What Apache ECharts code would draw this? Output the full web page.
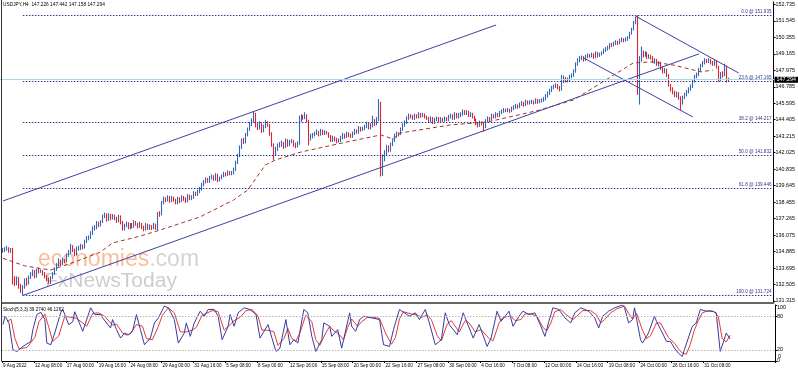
<!DOCTYPE html>
<html><head><meta charset="utf-8">
<script src="https://cdn.jsdelivr.net/npm/echarts@6/dist/echarts.min.js"></script>
<style>html,body{margin:0;padding:0;background:#fff}#c{width:798px;height:372px}</style>
</head><body><div id="c"></div>
<script>
// ---- USDJPY H4, 9 Aug 16:00 .. 2 Nov 2022 (bars of 4 hours; open = previous close) ----
const firstOpen = 134.90;
const closes = [
134.95,135.05,
135.10,134.90,135.05,132.90,132.60,132.90,
132.40,132.10,132.30,132.80,132.60,133.00,
133.20,133.40,133.10,133.50,133.45,133.45,
133.30,133.10,132.90,132.60,133.00,133.30,
133.60,133.90,134.20,134.00,134.25,134.20,
134.60,134.80,135.20,135.00,134.70,135.10,
135.10,135.30,135.20,135.60,135.80,135.90,
136.20,136.50,136.60,136.90,136.80,137.00,
137.40,137.60,137.20,137.50,137.30,137.45,
137.30,137.10,137.40,137.00,136.50,136.75,
136.90,136.60,136.80,136.70,137.00,136.85,
136.70,136.90,136.60,136.50,136.80,136.55,
136.70,136.60,136.80,136.55,137.60,137.55,
138.40,138.70,138.60,138.80,138.50,138.75,
138.60,138.40,138.70,138.50,138.80,138.70,
138.50,138.90,138.70,138.80,139.10,139.00,
139.20,139.40,139.70,139.90,140.10,139.95,
140.20,140.30,140.10,140.40,140.00,140.20,
140.30,140.50,140.40,140.60,140.50,140.55,
140.80,141.30,141.80,142.40,142.90,142.80,
143.30,143.70,144.10,144.30,144.80,144.00,
143.80,144.10,143.60,143.90,144.20,144.00,
143.40,142.60,142.00,142.30,142.50,142.60,
142.70,142.40,142.90,142.60,142.80,142.85,
142.60,142.50,142.70,144.40,144.60,144.55,
144.70,144.30,143.10,143.20,143.30,143.40,
143.50,143.30,143.60,143.40,143.50,143.45,
143.20,142.90,143.10,143.00,142.80,142.90,
143.10,143.30,143.20,143.40,143.30,143.20,
143.40,143.60,143.50,143.80,143.70,143.75,
143.90,144.10,143.80,144.00,144.30,144.10,
144.40,144.90,141.20,141.60,142.00,142.40,
142.20,142.60,142.90,143.20,143.40,143.35,
143.70,144.00,144.20,144.50,144.70,144.60,
144.50,144.70,144.60,144.80,144.65,144.75,
144.60,144.50,144.30,144.50,144.20,144.40,
144.50,144.30,144.45,144.35,144.50,144.40,
144.60,144.70,144.50,144.80,144.60,144.75,
144.80,145.00,144.85,144.95,144.70,144.80,
144.60,144.40,144.10,144.00,144.20,144.10,
143.90,144.30,144.50,144.40,144.70,144.60,
144.80,144.70,144.90,145.00,145.10,145.05,
145.10,145.00,145.20,145.30,145.40,145.30,
145.50,145.60,145.45,145.70,145.60,145.65,
145.70,145.60,145.80,145.65,145.75,145.80,
145.90,146.10,146.30,146.50,146.70,146.80,
146.90,146.70,146.60,147.20,147.40,147.20,
147.30,147.50,147.60,147.90,148.40,148.70,
148.80,148.90,148.70,148.95,149.05,149.00,
149.10,148.90,149.20,149.00,149.10,149.20,
149.40,149.50,149.60,149.80,149.75,149.90,
150.00,149.90,150.10,150.20,150.10,150.20,
150.30,150.60,150.90,151.40,151.70,146.50,
148.80,149.30,149.10,149.20,148.90,149.00,
148.90,148.60,148.70,148.40,148.50,148.10,
147.90,148.00,147.60,146.90,146.60,146.40,
146.20,146.30,146.00,145.60,146.00,146.20,
146.40,146.60,146.80,147.20,147.50,147.60,
148.00,148.30,148.50,148.70,148.60,148.70,
148.50,148.40,148.60,148.20,147.30,147.70,
147.60,148.20,147.226,147.294
];
const highs = [
135.15,135.20,
135.30,135.20,135.15,135.15,133.10,133.10,
133.05,132.55,132.45,132.95,133.00,133.15,
133.40,133.60,133.55,133.65,133.70,133.60,
133.55,133.40,133.20,133.00,133.10,133.40,
133.75,134.05,134.40,134.30,134.45,134.35,
134.75,135.00,135.45,135.35,135.10,135.25,
135.30,135.45,135.40,135.75,136.00,136.05,
136.35,136.70,136.80,137.10,137.05,137.15,
137.55,137.70,137.65,137.65,137.60,137.60,
137.55,137.40,137.55,137.50,137.10,136.90,
137.05,137.00,136.95,136.95,137.15,137.10,
136.95,137.05,136.95,136.75,136.95,136.90,
136.85,136.80,136.95,136.90,137.75,137.80,
138.55,138.85,138.80,138.95,138.90,138.90,
138.85,138.70,138.85,138.80,138.95,138.90,
138.80,139.05,139.00,138.95,139.25,139.20,
139.35,139.55,139.85,140.05,140.25,140.20,
140.35,140.45,140.40,140.55,140.50,140.30,
140.45,140.65,140.60,140.75,140.70,140.70,
140.95,141.45,141.95,142.55,143.05,143.10,
143.45,143.85,144.25,144.50,144.99,144.90,
144.15,144.30,144.20,144.05,144.40,144.30,
144.10,143.50,142.70,142.45,142.70,142.80,
142.90,142.80,143.05,143.00,142.95,143.00,
142.95,142.75,142.85,144.70,144.80,144.75,
144.95,144.80,144.40,143.40,143.45,143.55,
143.70,143.60,143.75,143.70,143.65,143.60,
143.50,143.30,143.25,143.20,143.10,143.05,
143.25,143.45,143.40,143.55,143.50,143.40,
143.55,143.75,143.70,143.95,143.90,143.90,
144.05,144.25,144.20,144.15,144.70,144.45,
144.60,145.90,145.70,141.90,142.20,142.60,
142.55,142.75,143.05,143.40,143.55,143.50,
143.85,144.15,144.35,144.65,144.85,144.80,
144.75,144.85,144.80,144.95,144.90,144.90,
144.85,144.70,144.60,144.65,144.60,144.55,
144.65,144.60,144.60,144.55,144.65,144.60,
144.75,144.85,144.80,144.95,144.90,144.90,
144.95,145.15,145.10,145.10,145.05,144.95,
144.90,144.70,144.50,144.25,144.35,144.30,
144.20,144.45,144.65,144.60,144.85,144.80,
144.95,144.90,145.05,145.15,145.25,145.20,
145.25,145.20,145.35,145.45,145.55,145.50,
145.65,145.75,145.70,145.85,145.80,145.80,
145.85,145.80,145.95,145.90,145.90,145.95,
146.05,146.25,146.45,146.65,146.85,146.95,
147.05,147.00,146.85,147.65,147.60,147.50,
147.45,147.65,147.75,148.05,148.55,148.85,
149.00,149.05,149.00,149.10,149.20,149.15,
149.25,149.20,149.35,149.30,149.25,149.35,
149.55,149.65,149.75,149.95,149.95,150.05,
150.15,150.10,150.25,150.35,150.30,150.35,
150.45,150.75,151.05,151.55,151.85,151.94,
149.00,149.70,149.40,149.35,149.30,149.15,
149.10,149.00,148.85,148.80,148.65,148.60,
148.25,148.15,148.10,147.70,147.00,146.75,
146.50,146.45,146.40,146.10,146.15,146.35,
146.55,146.75,146.95,147.35,147.65,147.80,
148.15,148.45,148.65,148.85,148.80,148.85,
148.80,148.65,148.75,148.70,148.30,147.85,
147.90,148.45,148.30,147.442
];
const lows = [
134.80,134.85,
134.95,134.80,134.80,132.50,132.40,132.45,
132.20,131.90,131.72,132.20,132.40,132.50,
132.90,133.10,132.95,133.00,133.30,133.35,
133.15,132.95,132.75,132.55,132.55,132.90,
133.20,133.50,133.80,133.85,133.90,134.05,
134.10,134.50,134.70,134.85,134.55,134.60,
134.95,135.00,135.05,135.10,135.50,135.70,
135.80,136.10,136.40,136.50,136.65,136.70,
136.95,137.30,137.05,137.10,137.15,137.20,
137.15,136.95,137.00,136.85,136.40,136.40,
136.65,136.50,136.50,136.55,136.60,136.75,
136.55,136.60,136.50,136.35,136.40,136.45,
136.45,136.45,136.50,136.45,136.40,137.40,
137.50,138.30,138.45,138.50,138.40,138.45,
138.50,138.30,138.30,138.40,138.45,138.55,
138.40,138.45,138.60,138.60,138.70,138.90,
138.90,139.10,139.30,139.60,139.80,139.85,
139.85,140.10,140.00,140.00,139.90,139.95,
140.10,140.25,140.30,140.35,140.40,140.40,
140.45,140.70,141.20,141.70,142.30,142.65,
142.70,143.20,143.60,143.95,144.20,143.85,
143.65,143.70,143.45,143.50,143.80,143.90,
143.25,142.45,141.50,141.85,142.15,142.40,
142.45,142.30,142.35,142.45,142.50,142.70,
142.45,142.35,142.40,142.60,144.25,144.40,
144.45,144.20,142.55,142.90,143.05,143.20,
143.30,143.20,143.25,143.30,143.30,143.35,
143.10,142.80,142.80,142.85,142.70,142.75,
142.80,143.00,143.05,143.10,143.15,143.10,
143.10,143.30,143.40,143.40,143.55,143.60,
143.65,143.80,143.70,143.70,143.85,143.95,
144.00,144.30,140.30,140.35,141.40,141.85,
142.05,142.10,142.50,142.80,143.10,143.20,
143.30,143.60,143.90,144.10,144.40,144.50,
144.40,144.40,144.50,144.50,144.55,144.60,
144.50,144.40,144.20,144.20,144.10,144.10,
144.30,144.20,144.20,144.25,144.25,144.30,
144.30,144.50,144.40,144.40,144.50,144.50,
144.60,144.70,144.75,144.75,144.60,144.60,
144.50,144.30,144.00,143.85,143.90,144.00,
143.55,143.80,144.20,144.30,144.35,144.50,
144.50,144.60,144.60,144.80,144.90,144.95,
144.95,144.90,144.95,145.10,145.20,145.20,
145.25,145.40,145.35,145.40,145.50,145.50,
145.55,145.50,145.55,145.55,145.60,145.65,
145.70,145.80,146.00,146.20,146.40,146.60,
146.70,146.60,146.45,146.50,147.05,147.10,
147.10,147.20,147.40,147.50,147.80,148.30,
148.55,148.70,148.60,148.65,148.85,148.90,
148.90,148.80,148.85,148.90,148.95,149.05,
149.15,149.30,149.40,149.50,149.65,149.70,
149.80,149.80,149.85,150.00,150.00,150.05,
150.10,150.25,150.55,150.85,151.30,146.20,
145.50,148.60,148.90,148.95,148.80,148.80,
148.75,148.50,148.45,148.30,148.25,148.00,
147.75,147.75,147.50,146.80,146.45,146.25,
146.05,146.00,145.85,145.10,145.50,145.90,
146.10,146.30,146.50,146.70,147.10,147.40,
147.55,147.90,148.20,148.40,148.50,148.50,
148.40,148.30,148.30,148.10,147.15,147.20,
147.45,147.55,147.10,147.158
];
// moving average (dashed), read at bar indices
const maPoints = [[0,134.40],[11,133.85],[24,133.55],[36,134.13],[49,134.85],[55,135.50],[69,136.00],[79,136.44],
 [99,137.38],[116,138.61],[123,139.33],[132,141.14],[137,141.50],[150,142.08],[173,142.80],[190,143.31],[196,143.02],
 [200,143.45],[225,144.03],[244,144.25],[270,145.11],[287,145.84],[317,148.51],[326,148.58],[337,148.36],[351,147.86],[357,148.00]];
// Fibonacci retracement levels
const fibNames  = ['0.0','23.6','38.2','50.0','61.8','100.0'];
const fibValues = [151.935,147.165,144.217,141.832,139.446,131.724];
const fibStartBar = 10;
// trend / channel lines: [bar1, price1, bar2, price2]
const trendLines = [[0,138.54,248,151.25],[10,131.72,350,149.16],[318,151.90,370,147.78],[292,148.87,347,144.60]];
const lastPrice = 147.294;
const priceTicks = [152.735,151.545,150.355,149.165,147.975,146.785,145.595,144.405,143.215,142.025,140.835,139.645,138.455,137.265,136.075,134.885,133.695,132.505,131.315];
const timeLabels = ['9 Aug 2022','12 Aug 08:00','17 Aug 00:00','19 Aug 16:00','24 Aug 08:00','29 Aug 00:00','31 Aug 16:00','5 Sep 08:00','8 Sep 00:00','12 Sep 16:00','15 Sep 08:00','20 Sep 00:00','22 Sep 16:00','27 Sep 08:00','30 Sep 00:00','4 Oct 16:00','7 Oct 08:00','12 Oct 00:00','14 Oct 16:00','19 Oct 08:00','24 Oct 00:00','26 Oct 16:00','31 Oct 08:00'];
const labelEvery = 16;
// Stochastic (5,3,3): [bar, value]
const stochK = [[0,65],[1,80],[3,68],[5,20],[7,17],[10,26],[14,35],[15,56],[17,83],[19,87],[21,74],[22,32],[24,29],[26,50],[29,87],[30,92],[33,65],[35,70],[36,88],[39,62],[40,53],[44,95],[46,83],[49,83],[50,77],[54,59],[55,74],[57,56],[59,41],[61,50],[63,47],[65,53],[67,83],[69,56],[71,29],[74,41],[76,68],[78,77],[81,98],[83,95],[86,74],[88,32],[91,50],[92,68],[94,44],[96,68],[99,89],[101,80],[103,92],[106,92],[108,80],[110,38],[113,62],[114,83],[116,62],[118,86],[121,95],[124,92],[127,83],[129,41],[131,53],[133,65],[135,41],[137,17],[139,23],[142,74],[144,29],[146,38],[148,32],[151,92],[153,86],[155,44],[157,17],[160,38],[161,68],[164,62],[165,44],[168,56],[170,23],[174,86],[175,62],[177,53],[179,74],[181,80],[185,77],[189,74],[191,29],[194,26],[196,56],[199,92],[200,92],[204,80],[207,86],[209,74],[212,92],[214,68],[217,29],[220,38],[222,86],[224,65],[228,47],[231,86],[233,68],[236,41],[239,65],[243,26],[245,41],[248,89],[250,71],[254,89],[256,62],[259,80],[261,89],[264,83],[267,86],[270,62],[272,44],[274,71],[276,95],[279,92],[282,77],[285,68],[287,86],[290,95],[294,89],[297,77],[299,59],[301,80],[304,89],[307,95],[311,100],[312,95],[314,68],[316,74],[317,95],[320,38],[321,32],[324,50],[327,80],[328,71],[331,50],[333,35],[335,35],[337,23],[339,14],[341,8],[342,20],[346,62],[348,68],[350,92],[353,89],[356,89],[358,86],[360,17],[362,38],[363,50],[365,39.274]];
const stochD = [[2,70],[4,75],[6,40],[8,22],[12,24],[16,42],[18,70],[21,84],[23,60],[25,35],[28,45],[31,80],[34,78],[37,76],[40,68],[42,62],[45,85],[48,86],[51,80],[55,64],[57,66],[60,50],[62,46],[64,49],[67,65],[70,62],[72,40],[75,38],[78,62],[80,82],[83,95],[86,86],[89,52],[92,52],[95,55],[97,60],[100,82],[102,85],[105,90],[108,88],[111,55],[114,65],[116,72],[119,78],[122,90],[125,92],[128,80],[130,55],[133,55],[136,52],[138,28],[141,40],[143,58],[145,40],[147,35],[149,50],[152,82],[155,70],[157,38],[159,28],[162,50],[164,62],[166,54],[168,50],[171,38],[173,60],[175,75],[178,62],[180,70],[183,78],[186,78],[189,76],[192,50],[195,30],[197,42],[199,75],[201,88],[205,84],[208,82],[210,78],[213,82],[215,74],[218,45],[220,36],[223,66],[225,72],[229,52],[232,72],[234,68],[237,52],[240,56],[244,40],[246,36],[249,68],[251,78],[255,80],[257,72],[260,74],[262,84],[265,84],[268,80],[271,60],[273,54],[275,68],[277,88],[280,92],[283,82],[286,74],[288,80],[291,90],[295,90],[298,82],[300,68],[302,74],[305,86],[308,93],[312,98],[314,85],[316,75],[318,85],[321,55],[323,40],[325,45],[328,68],[330,68],[332,55],[334,42],[337,32],[339,22],[341,14],[343,12],[345,30],[347,55],[349,72],[351,86],[354,90],[357,88],[359,80],[361,40],[363,34],[365,46.1262]];
const stochTicks = [0,20,80,100];
const stochLevels = [80,20];
const titleText = 'USDJPY,H4  147.226 147.442 147.158 147.294';
const stochText = 'Stoch(5,3,3) 39.2740 46.1262';

// ---------------- chart ----------------
const SLOTS = 388;
const cats = Array.from({length: SLOTS}, (_, i) => String(i));
const candles = closes.map((c, i) => [i === 0 ? firstOpen : closes[i - 1], c, lows[i], highs[i]]);
const FONT = 'Liberation Sans, Arial, sans-serif';
const NAVY = '#34348f';
const isLabel = (idx) => idx % labelEvery === 0 && idx / labelEvery < timeLabels.length;

const fibLines = fibValues.map((v, k) => [
  {coord: [fibStartBar, v], name: fibNames[k] + ' @ ' + v.toFixed(3)},
  {coord: [SLOTS - 1, v]}
]);
const chanLines = trendLines.map(t => [{coord: [t[0], t[1]]}, {coord: [t[2], t[3]]}]);

const chart = echarts.init(document.getElementById('c'), null, {renderer: 'canvas'});
chart.setOption({
  animation: false,
  backgroundColor: '#fff',
  grid: [
    {left: 2, right: 23, top: 2, height: 301},
    {left: 2, right: 23, top: 305, height: 56}
  ],
  xAxis: [
    {type: 'category', gridIndex: 0, data: cats, boundaryGap: true,
     axisLine: {show: true, lineStyle: {color: '#666', width: 2}}, axisTick: {show: false}, axisLabel: {show: false}, splitLine: {show: false}},
    {type: 'category', gridIndex: 1, data: cats, boundaryGap: true,
     axisLine: {show: true, lineStyle: {color: '#000', width: 1}},
     axisTick: {show: true, interval: isLabel, length: 2, lineStyle: {color: '#000'}},
     axisLabel: {show: true, interval: isLabel, formatter: (v, idx) => isLabel(idx) ? timeLabels[idx / labelEvery] : '',
       align: 'left', margin: 2, fontSize: 4.6, fontFamily: FONT, color: '#000'},
     splitLine: {show: false}}
  ],
  yAxis: [
    {type: 'value', gridIndex: 0, position: 'right', min: 131.171, max: 152.908, scale: true,
     axisLine: {show: true, lineStyle: {color: '#000'}},
     axisTick: {show: true, customValues: priceTicks, length: 2, lineStyle: {color: '#000'}},
     axisLabel: {show: true, customValues: priceTicks, formatter: v => v.toFixed(3), fontSize: 5.4, fontFamily: FONT, color: '#000', margin: 2},
     splitLine: {show: false}},
    {type: 'value', gridIndex: 1, position: 'right', min: 0, max: 100,
     axisLine: {show: true, lineStyle: {color: '#000'}},
     axisTick: {show: true, customValues: stochTicks, length: 2, lineStyle: {color: '#000'}},
     axisLabel: {show: true, customValues: stochTicks, fontSize: 5.4, fontFamily: FONT, color: '#000', margin: 2,
       formatter: v => { const r = Math.round(Number(v)); return r === 100 ? '{t|100}' : String(r); },
       rich: {t: {fontSize: 5.4, fontFamily: FONT, padding: [6, 0, 0, 0]}}},
     splitLine: {show: false}}
  ],
  series: [
    {type: 'candlestick', xAxisIndex: 0, yAxisIndex: 0, data: candles, barWidth: 1,
     itemStyle: {color: '#3466bd', color0: '#e3222a', borderColor: '#3466bd', borderColor0: '#e3222a', borderWidth: 1.1},
     z: 3},
    {type: 'line', xAxisIndex: 0, yAxisIndex: 0, data: maPoints, symbol: 'none', z: 4,
     lineStyle: {color: '#a3352a', width: 1, type: [4, 3]},
     markLine: {silent: true, symbol: ['none', 'none'], animation: false,
       data: [
         ...fibLines.map(d => [Object.assign({}, d[0], {
            lineStyle: {color: NAVY, width: 1, type: [1.5, 1.5]},
            label: {show: true, position: 'insideEndTop', formatter: '{b}', fontSize: 4.6, fontFamily: FONT, color: NAVY, distance: [1, 1]}
         }), d[1]]),
         ...chanLines.map(d => [Object.assign({}, d[0], {lineStyle: {color: '#3f3f9f', width: 1, type: 'solid'}, label: {show: false}}), d[1]]),
         [{yAxis: lastPrice, x: 0, lineStyle: {color: '#a9d9e2', width: 1, type: 'solid'}, label: {show: false}}, {yAxis: lastPrice, x: 775}],
         {yAxis: lastPrice, lineStyle: {color: '#a9d9e2', width: 0.01, type: 'solid'},
          label: {show: true, position: 'end', formatter: lastPrice.toFixed(3), backgroundColor: '#000', color: '#fff', fontSize: 5.4, fontFamily: FONT, padding: [1, 2, 0, 2], distance: 1}}
       ]}
    },
    {type: 'line', xAxisIndex: 1, yAxisIndex: 1, data: stochK, symbol: 'none', z: 4,
     lineStyle: {color: '#3a3aa0', width: 1},
     markLine: {silent: true, symbol: ['none', 'none'], label: {show: false},
       data: stochLevels.map(v => ({yAxis: v})),
       lineStyle: {color: '#b5b5b5', width: 1, type: [1.5, 1.5]}}},
    {type: 'line', xAxisIndex: 1, yAxisIndex: 1, data: stochD, symbol: 'none', z: 3,
     lineStyle: {color: '#e23b3b', width: 1}}
  ],
  graphic: [
    {type: 'line', shape: {x1: 1.5, y1: 0, x2: 1.5, y2: 361}, style: {stroke: '#333', lineWidth: 1}, z: 10},
    {type: 'text', left: 3, top: 2, style: {text: titleText, fontSize: 4.8, fontFamily: FONT, fill: '#000'}, z: 10},
    {type: 'text', left: 3, top: 307, style: {text: stochText, fontSize: 4.6, fontFamily: FONT, fill: '#000'}, z: 10},
    {type: 'text', left: 38, top: 248, z: 1, style: {
       text: '{a|economies}{b|.com}', fontFamily: FONT,
       rich: {a: {fontSize: 23, fill: '#f6bf9e', fontFamily: FONT}, b: {fontSize: 23, fill: '#d4d4d4', fontFamily: FONT}}}},
    {type: 'text', left: 45, top: 271, z: 1, style: {text: 'FxNewsToday', fontSize: 21, fontFamily: FONT, fill: '#cdcdcd'}}
  ]
});
// The lowest stochastic label (value 0) is dropped by the axis; place it via the axis scale.
const zeroY = chart.convertToPixel({yAxisIndex: 1}, stochTicks[0]);
const axisX = chart.convertToPixel({xAxisIndex: 1}, SLOTS - 1);
chart.setOption({graphic: [{id: 'zeroLabel', type: 'text', x: axisX + 4, y: zeroY - 4, z: 10,
  style: {text: String(stochTicks[0]), fontSize: 5.4, fontFamily: FONT, fill: '#000', verticalAlign: 'middle', align: 'left'}}]});
</script></body></html>
